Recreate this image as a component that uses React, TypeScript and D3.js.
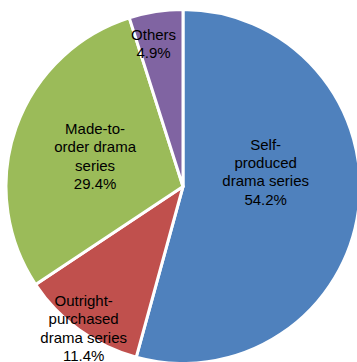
import React from "react";
import * as d3 from "d3";

const categories = ["Self-produced drama series", "Outright-purchased drama series", "Made-to-order drama series", "Others"];
const values = [54.2, 11.4, 29.4, 4.9];
const labelLines = [
  ["Self-", "produced", "drama series", "54.2%"],
  ["Outright-", "purchased", "drama series", "11.4%"],
  ["Made-to-", "order drama", "series", "29.4%"],
  ["Others", "4.9%"],
];
const colors = ["#4F81BD", "#C0504D", "#9BBB59", "#8064A2"];
const labelRadius = [84, 173, 93, 146];
const labelAngleShift = [-17.8, -0.8, -0.3, -2.8];

export default function App() {
  const W = 357, H = 362;
  const cx = 183, cy = 186.5, R = 177;
  const fs = 15, lh = 18.3;
  const pie = d3.pie<number>().sort(null).value((d) => d);
  const arcs = pie(values);
  const arc = d3.arc<d3.PieArcDatum<number>>().innerRadius(0).outerRadius(R);
  return (
    <svg width={W} height={H} style={{ position: "absolute", left: 0, top: 0 }} fontFamily="'Liberation Sans', Arial, sans-serif">
      <g transform={`translate(${cx},${cy})`}>
        {arcs.map((a, i) => (
          <path key={categories[i]} d={arc(a) || ""} fill={colors[i]} stroke="#fff" strokeWidth={3} strokeLinejoin="round" />
        ))}
        {arcs.map((a, i) => {
          const mid = (a.startAngle + a.endAngle) / 2 + (labelAngleShift[i] * Math.PI) / 180;
          const x = labelRadius[i] * Math.sin(mid);
          const y = -labelRadius[i] * Math.cos(mid);
          const lines = labelLines[i];
          const y0 = y - ((lines.length - 1) * lh) / 2 + fs * 0.36;
          return (
            <text key={"l" + i} textAnchor="middle" fontSize={fs} fill="#000">
              {lines.map((t, j) => (
                <tspan key={j} x={x} y={y0 + j * lh}>{t}</tspan>
              ))}
            </text>
          );
        })}
      </g>
    </svg>
  );
}
